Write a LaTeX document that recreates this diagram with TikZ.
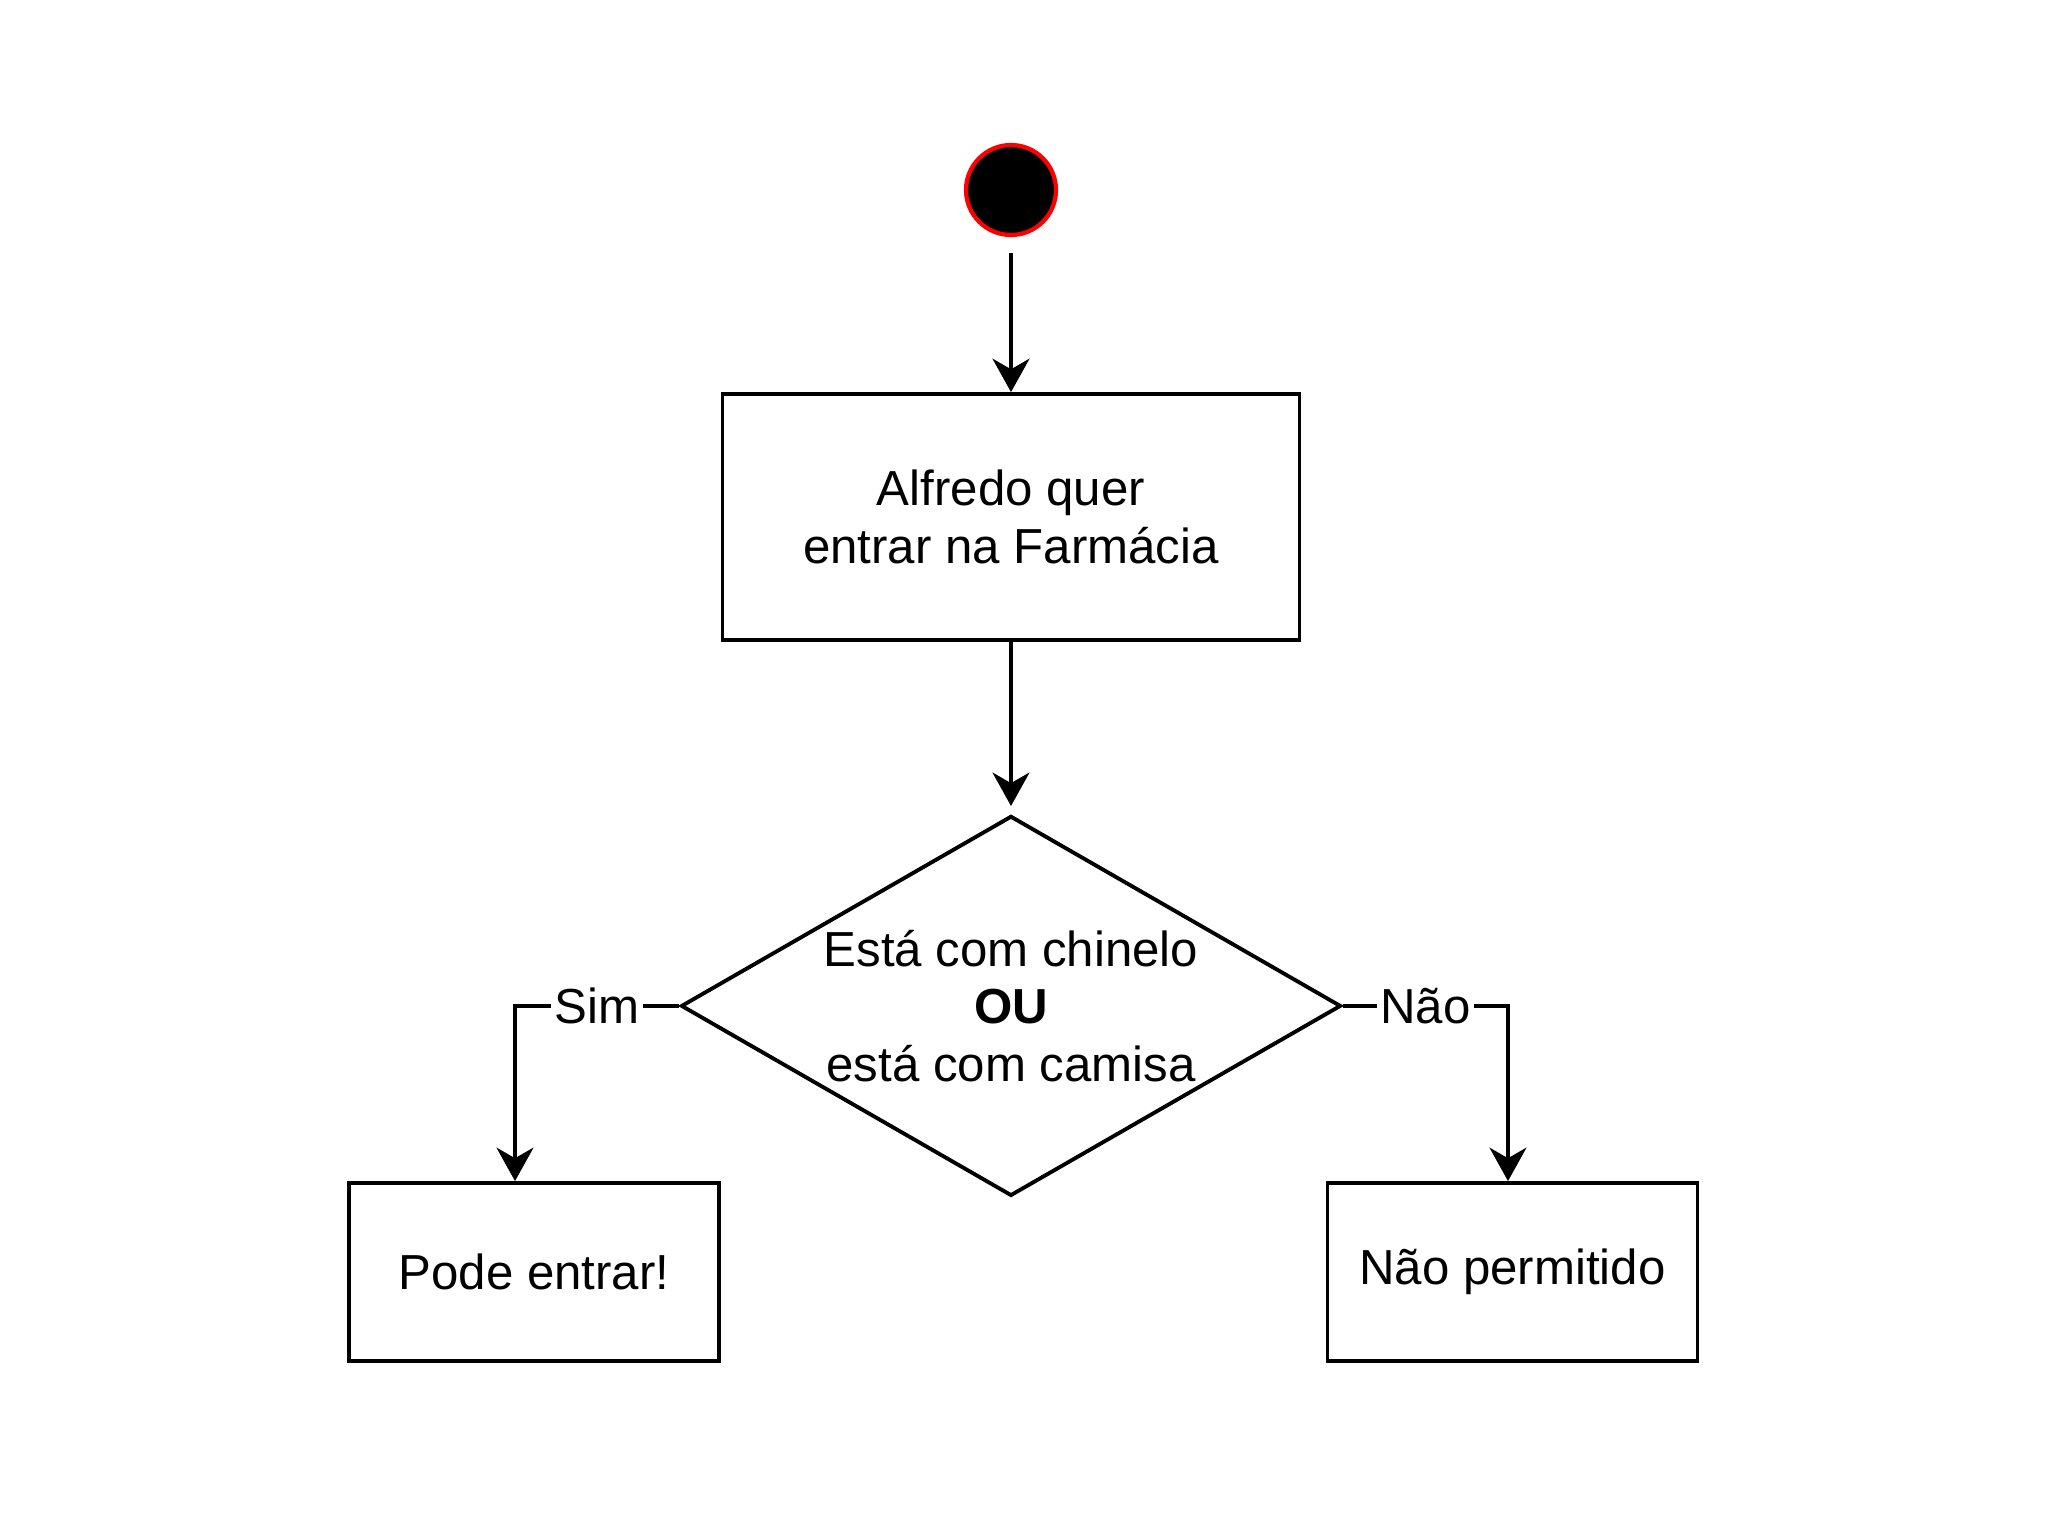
\documentclass[tikz,border=0pt]{standalone}
\usepackage{fontspec}
\setmainfont{Liberation Sans}
\usetikzlibrary{arrows.meta, positioning, shapes.geometric}

\begin{document}
\begin{tikzpicture}[
        startnode/.style={
            circle,
            fill=black,
            draw=red,
            line width=1.2pt,
            minimum size=0.9cm,
            inner sep=0pt
        },
        actionbox/.style={
            draw,
            line width=1.1pt,
            align=center,
            inner sep=0pt,
            font=\fontsize{14}{16.5}\selectfont
        },
        decisionshape/.style={
            diamond,
            draw,
            line width=1.1pt,
            inner sep=0pt,
            minimum width=6.6cm,
            minimum height=3.8cm
        },
        flowarrow/.style={
            -{Stealth[length=9.5pt, width=10.5pt, inset=3pt]},
            line width=1.1pt
        },
        branchlabel/.style={
            font=\fontsize{14}{16.5}\selectfont,
            fill=white,
            inner sep=1pt
        }
    ]

        \useasboundingbox (0,0) rectangle (20.48,-15.36);

        % ---------------------------------------------------------------------
        % Main flow
        % ---------------------------------------------------------------------

        \node[startnode] (start) at (10.11,-1.90) {};

        \node[
            actionbox,
            minimum width=5.77cm,
            minimum height=2.46cm,
            below=1.55cm of start
        ] (wants) {Alfredo quer\\entrar na Farmácia};

        \node[
            decisionshape,
            below=1.72cm of wants
        ] (decision) {};

        \node[
            font=\fontsize{14}{16.3}\selectfont,
            align=center
        ] (decisiontext) at (decision.center)
            {Está com chinelo\\\textbf{OU}\\está com camisa};

        % ---------------------------------------------------------------------
        % Outcomes
        % ---------------------------------------------------------------------

        \node[
            actionbox,
            minimum width=3.70cm,
            minimum height=1.78cm
        ] (allowed) at (5.34,-12.72) {Pode entrar!};

        \node[
            actionbox,
            minimum width=3.70cm,
            minimum height=1.78cm
        ] (denied) at (15.125,-12.72) {Não permitido};

        % ---------------------------------------------------------------------
        % Connectors
        % ---------------------------------------------------------------------

        \draw[flowarrow, shorten <=0.16cm] (start) -- (wants);

        \draw[flowarrow, shorten >=0.08cm] (wants) -- (decision);

        \draw[flowarrow]
            (decision.west)
            -|
            node[branchlabel, pos=0.25] {Sim}
            ([xshift=-0.19cm]allowed.north);

        \draw[flowarrow]
            (decision.east)
            -|
            node[branchlabel, pos=0.25] {Não}
            ([xshift=-0.045cm]denied.north);

    \end{tikzpicture}
\end{document}
